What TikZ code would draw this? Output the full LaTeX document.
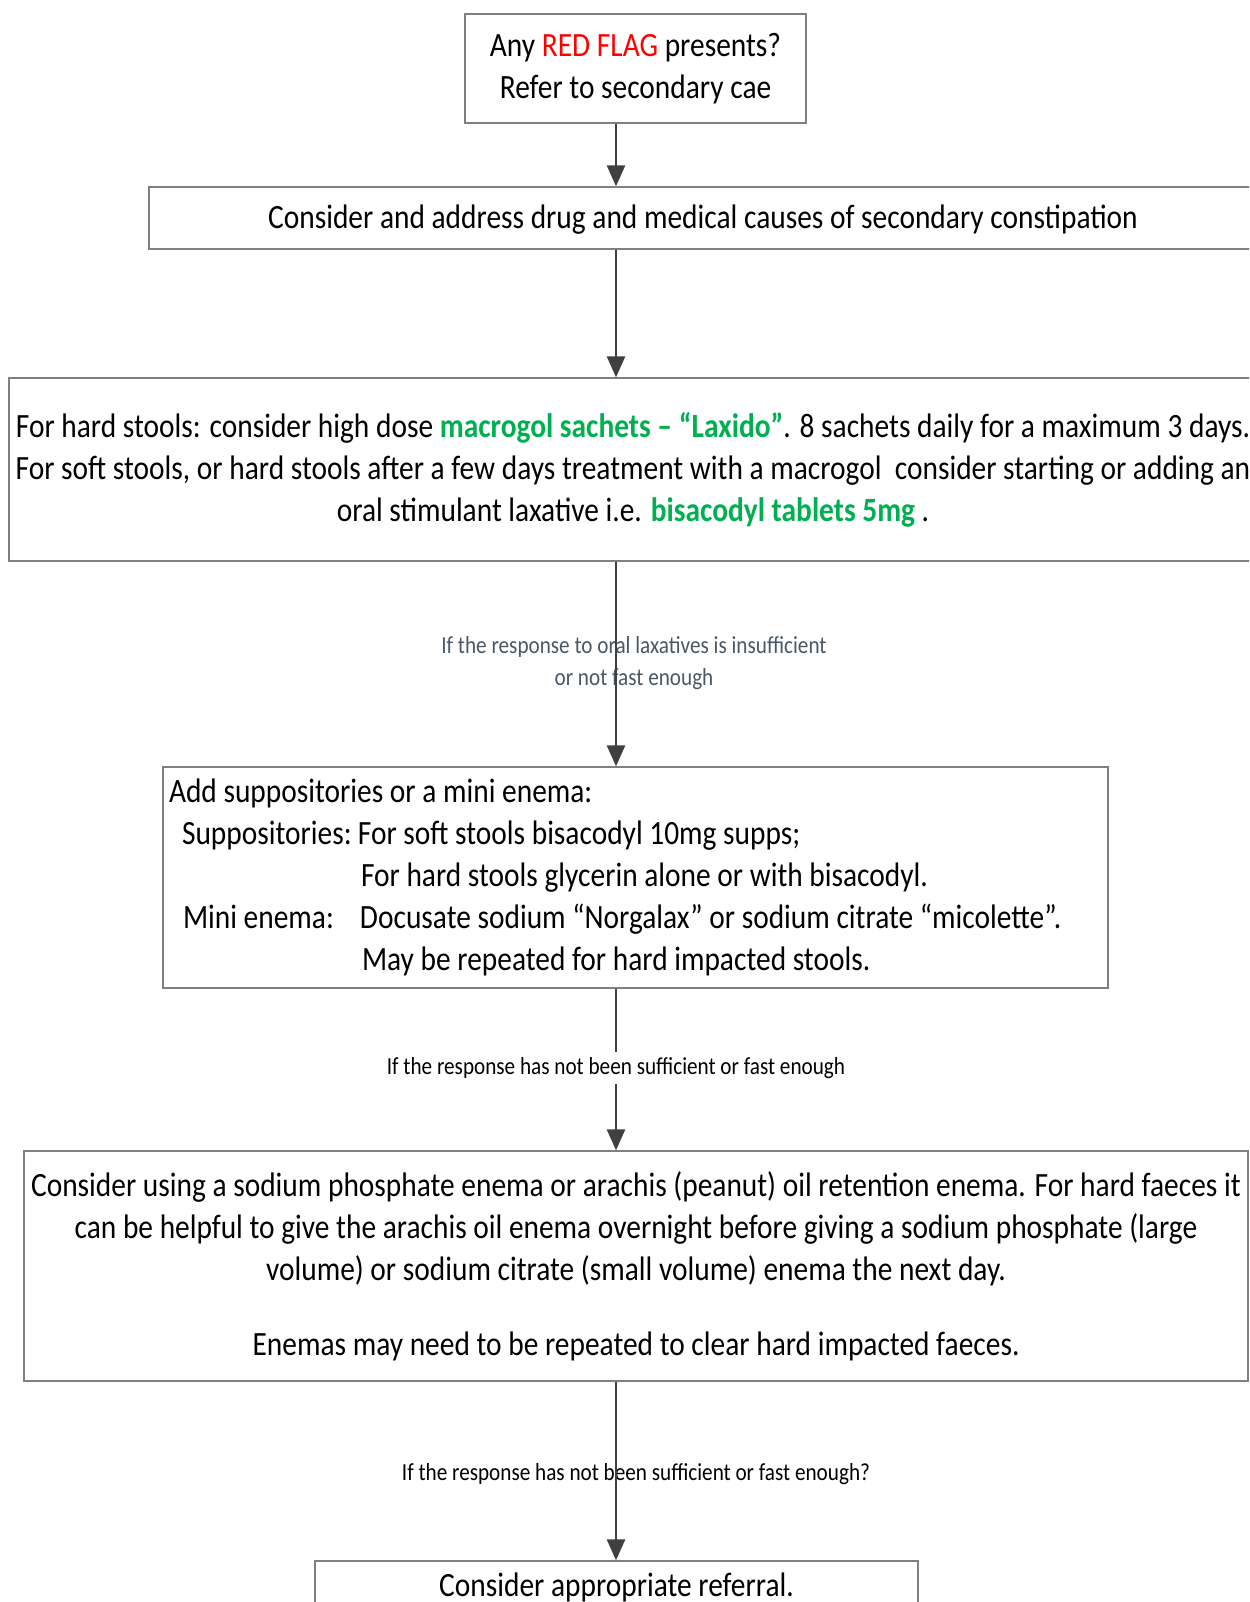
\documentclass[tikz,border=0pt]{standalone}
\usepackage{fontspec}
\setmainfont[FakeStretch=0.865]{Carlito}
\usepackage{xcolor}
\usetikzlibrary{arrows.meta}
\definecolor{flagred}{HTML}{FF0000}
\definecolor{druggreen}{HTML}{00B050}
\definecolor{notegray}{HTML}{4A5866}
\definecolor{linegray}{HTML}{404040}
\definecolor{boxgray}{HTML}{808080}

\begin{document}
\begin{tikzpicture}[x=1pt, y=-1pt,
  box/.style={draw=boxgray, line width=1.3pt, inner sep=0pt, align=center, font=\fontsize{34}{42}\selectfont},
  note/.style={inner sep=0pt, align=center, font=\fontsize{24.5}{32}\selectfont},
  flow/.style={draw=linegray, line width=2.6pt, -{Triangle[length=21pt,width=18pt]}}]
  \useasboundingbox (0,0) rectangle (1249,1602);
  \clip (0,0) rectangle (1249,1602);
  \coordinate (spine) at (616,0);

  \node[box, minimum width=341pt, minimum height=109pt] (redflag) at (635.5,68.5)
    {Any \textcolor{flagred}{RED FLAG} presents?\\Refer to secondary cae};
  \node[box, minimum width=1108pt, minimum height=62pt, text depth=3pt] (causes) at (703,218)
    {Consider and address drug and medical causes of secondary constipation};
  \node[box, minimum width=1248pt, minimum height=183pt] (oral) at (633,469.5)
    {For hard stools: consider high dose \textcolor{druggreen}{\textbf{macrogol sachets – “Laxido”}}. 8 sachets daily for a maximum 3 days.\\
     For soft stools, or hard stools after a few days treatment with a macrogol\ \ consider starting or adding an\\
     oral stimulant laxative i.e. \textcolor{druggreen}{\textbf{bisacodyl tablets 5mg}} .};
  \node[box, align=flush left, text width=933pt, inner xsep=6pt, minimum height=221pt] (supps) at (635.5,877.5)
    {Add suppositories or a mini enema:\\
     \hspace*{13pt}\makebox[176pt][l]{Suppositories:}For soft stools bisacodyl 10mg supps;\\
     \hspace*{192pt}For hard stools glycerin alone or with bisacodyl.\\
     \hspace*{14pt}\makebox[177pt][l]{Mini enema:}Docusate sodium “Norgalax” or sodium citrate “micolette”.\\
     \hspace*{193pt}May be repeated for hard impacted stools.};
  \node[box, minimum width=1224pt, minimum height=230pt] (enema) at (636,1266)
    {Consider using a sodium phosphate enema or arachis (peanut) oil retention enema. For hard faeces it\\
     can be helpful to give the arachis oil enema overnight before giving a sodium phosphate (large\\
     volume) or sodium citrate (small volume) enema the next day.\\[33pt]
     Enemas may need to be repeated to clear hard impacted faeces.};
  \node[box, minimum width=603pt, minimum height=52pt] (referral) at (616.5,1587)
    {Consider appropriate referral.};

  % labels between the boxes
  \node[note, text=notegray] (oralnote) at (634,663)
    {If the response to oral laxatives is insufficient\\or not fast enough};
  \node[note, minimum height=32pt] (suppsnote) at (616,1068)
    {If the response has not been sufficient or fast enough};
  \node[note] (enemanote) at (636,1474)
    {If the response has not been sufficient or fast enough?};

  \draw[flow] (spine |- redflag.south) -- (spine |- causes.north);
  \draw[flow] (spine |- causes.south) -- (spine |- oral.north);
  \draw[flow] (spine |- oral.south) -- (spine |- supps.north);
  \draw[draw=linegray, line width=2.6pt] (spine |- supps.south) -- (suppsnote.north);
  \draw[flow] (suppsnote.south) -- (spine |- enema.north);
  \draw[flow] (spine |- enema.south) -- (spine |- referral.north);
\end{tikzpicture}
\end{document}
